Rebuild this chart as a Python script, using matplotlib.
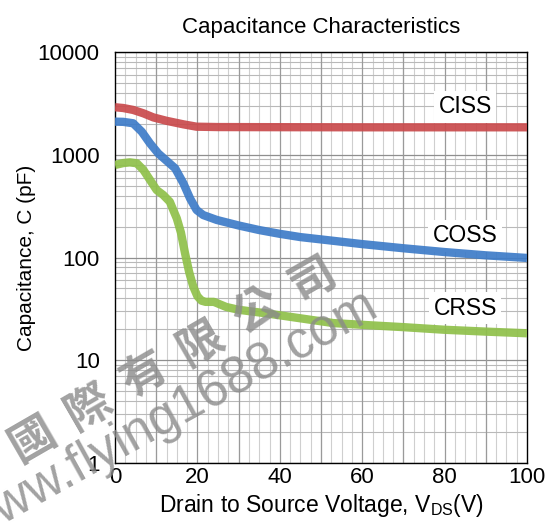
import matplotlib
matplotlib.use('Agg')
import matplotlib.pyplot as plt
from matplotlib.ticker import MultipleLocator, LogLocator, NullFormatter, FixedLocator

plt.rcParams.update({
    'font.family': ['Liberation Sans', 'DejaVu Sans'],
    'mathtext.fontset': 'custom',
    'mathtext.rm': 'Liberation Sans',
})

# (V_DS in volts, capacitance in pF)
ciss_v = [0, 2, 4.4, 6.9, 9.3, 12.5, 16.6, 19.8, 25, 40, 60, 80, 100]
ciss_c = [2900, 2850, 2730, 2530, 2310, 2140, 1977, 1875, 1860, 1855, 1850, 1850, 1850]

coss_v = [0, 2, 4.4, 6.5, 8.5, 10.5, 12.5, 14.6, 16.6, 18.2, 19.8, 21.4, 24.7,
          30, 35, 40, 45, 50, 60, 70, 80, 90, 100]
coss_c = [2100, 2090, 2025, 1675, 1290, 1030, 875, 738, 527, 377, 290, 259, 232,
          205, 185, 170, 158, 150, 135, 123, 113, 105, 99]

crss_v = [0, 2, 3.6, 5.3, 6.9, 8.5, 10.1, 11.7, 13.3, 15, 16, 17, 18, 19, 20,
          21, 22, 24, 27, 30, 37, 45, 53, 61, 70, 80, 90, 100]
crss_c = [795, 830, 843, 826, 711, 568, 454, 406, 349, 240, 175, 110, 72, 52, 42,
          38, 37, 37, 33, 31, 28.5, 25.6, 23, 22, 21, 19.8, 19, 18.3]

labels = ['CISS', 'COSS', 'CRSS']
label_x = [85, 85, 85]
label_y = [2920, 162, 32]

W, H = 551, 523
fig = plt.figure(figsize=(W / 100, H / 100), dpi=100)
ax = fig.add_axes([115 / W, 1 - 463 / H, 412 / W, 411 / H])

ax.plot(ciss_v, ciss_c, color='#c94a4c', lw=6, alpha=0.92, solid_capstyle='butt', zorder=5)
ax.plot(coss_v, coss_c, color='#3e7cc8', lw=6, alpha=0.92, solid_capstyle='butt', zorder=5)
ax.plot(crss_v, crss_c, color='#8fc04a', lw=6, alpha=0.92, solid_capstyle='butt', zorder=5)

for t, x, y in zip(labels, label_x, label_y):
    ax.text(x, y, t, fontsize=16.5, ha='center', va='center', zorder=4,
            bbox=dict(boxstyle='square,pad=0.2', facecolor='white', edgecolor='none'))

ax.set_xlim(0, 100)
ax.set_yscale('log')
ax.set_ylim(1, 10000)
ax.xaxis.set_major_locator(MultipleLocator(20))
ax.xaxis.set_minor_locator(MultipleLocator(2.5))
ax.yaxis.set_major_locator(FixedLocator([1, 10, 100, 1000, 10000]))
ax.yaxis.set_minor_locator(LogLocator(base=10, subs=range(2, 10)))
ax.yaxis.set_minor_formatter(NullFormatter())
ax.set_yticklabels(['1', '10', '100', '1000', '10000'])

# grid: decades / every 10 V darker, minor lighter
for v in range(10, 100, 10):
    ax.axvline(v, color='#9a9a9a', lw=0.9, zorder=1)
ax.grid(True, which='minor', axis='x', color='#cfcfcf', lw=0.8, zorder=0)
ax.grid(True, which='major', axis='y', color='#8f8f8f', lw=0.9, zorder=1)
ax.grid(True, which='minor', axis='y', color='#b9b9b9', lw=0.8, zorder=0)
ax.set_axisbelow(True)

ax.tick_params(which='both', length=0)
ax.tick_params(axis='y', labelsize=16, pad=11)
ax.tick_params(axis='x', labelsize=16, pad=3)
for s in ax.spines.values():
    s.set_linewidth(1.0)
    s.set_color('black')

ax.set_title('Capacitance Characteristics', fontsize=16, pad=14)
ax.set_xlabel(r'Drain to Source Voltage, V$_{\mathrm{DS}}$(V)', fontsize=16.5, labelpad=3)
ax.set_ylabel('Capacitance, C (pF)', fontsize=15, labelpad=1)

# watermark
wm_chars = '國際有限公司'
for i, ch in enumerate(wm_chars):
    px, py = 33 + 56 * i, 440 - 32 * i
    fig.text(px / W, 1 - py / H, ch, fontsize=33, rotation=30, ha='center', va='center',
             rotation_mode='anchor', color='#8a8a8a', alpha=0.8, weight='bold',
             family=['Noto Sans CJK TC', 'DejaVu Sans'], zorder=10)
fig.text(374 / W, 1 - 303 / H, 'www.flying1688.com', fontsize=37, rotation=29,
         ha='right', va='center', rotation_mode='anchor', color='#8a8a8a', alpha=0.8,
         zorder=10)

fig.savefig('out.png', dpi=100)
